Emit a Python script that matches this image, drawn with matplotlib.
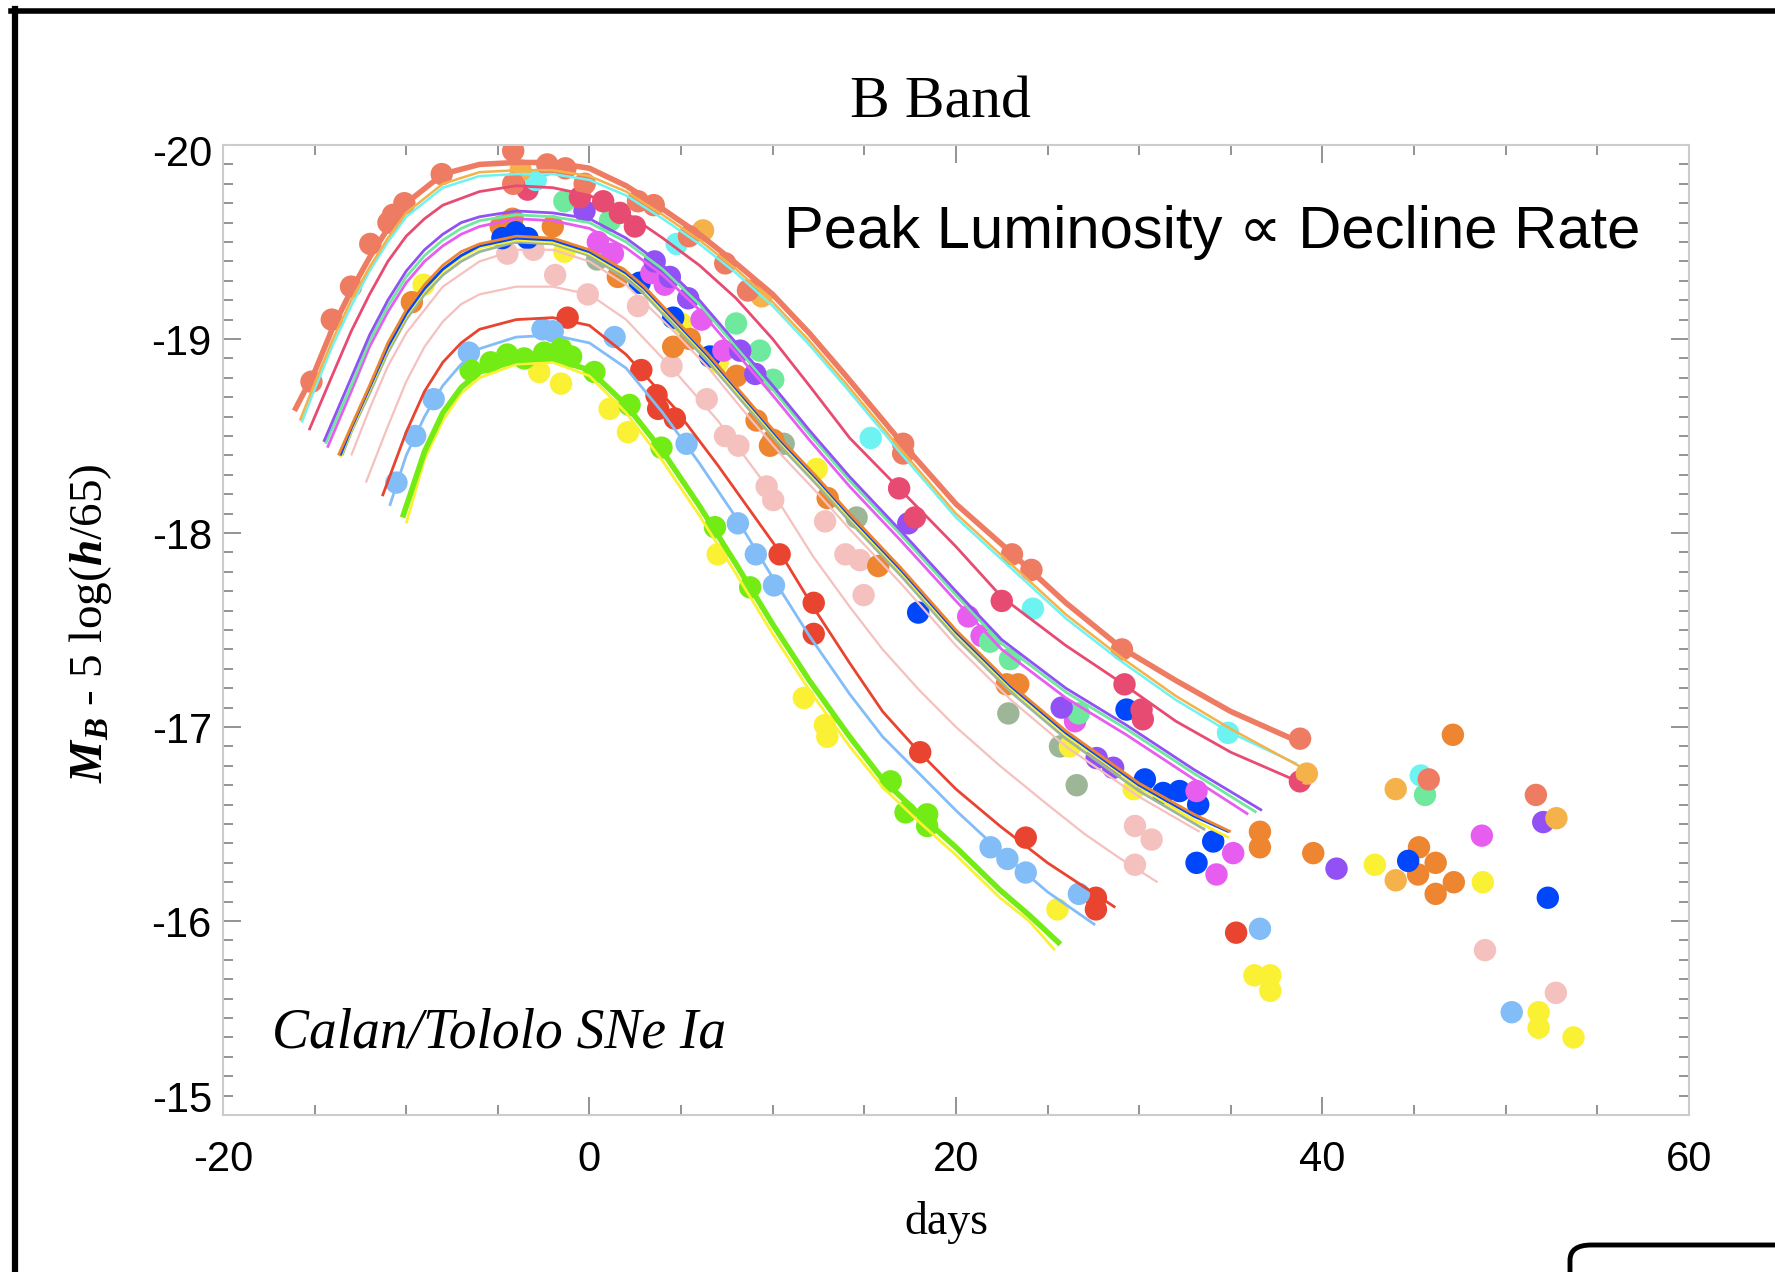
import matplotlib
matplotlib.use("Agg")
import matplotlib.pyplot as plt
from matplotlib.lines import Line2D
from matplotlib.patches import FancyBboxPatch
from matplotlib.ticker import MultipleLocator, FuncFormatter
from matplotlib.transforms import ScaledTranslation

plt.rcParams['axes.unicode_minus'] = False
plt.rcParams['mathtext.fontset'] = 'custom'
plt.rcParams['mathtext.rm'] = 'Liberation Serif'
plt.rcParams['mathtext.it'] = 'Liberation Serif:italic'
plt.rcParams['mathtext.bf'] = 'Liberation Serif:bold'
plt.rcParams['mathtext.bfit'] = 'Liberation Serif:italic:bold'

# ---- fitted light curves (days, M_B) ----
coral_day = [-16.1, -15, -14, -13, -12, -11, -10, -8, -6, -4, -2, 0, 2, 4, 6, 8, 10, 12, 14, 17, 20, 23, 26, 29, 32, 35, 38.8]
coral_mag = [-18.63, -18.83, -19.06, -19.25, -19.42, -19.57, -19.70, -19.85, -19.90, -19.91, -19.91, -19.88, -19.79, -19.67, -19.54, -19.39, -19.23, -19.03, -18.81, -18.47, -18.15, -17.90, -17.64, -17.41, -17.24, -17.08, -16.92]

ltorange_day = [-15.8, -15, -14, -13, -12, -11, -10, -8, -6, -4, -2, 0, 2, 4, 6, 8, 10, 12, 14, 17, 20, 23, 26, 29, 32, 35, 39.1]
ltorange_mag = [-18.58, -18.77, -19.00, -19.20, -19.37, -19.52, -19.65, -19.80, -19.86, -19.87, -19.87, -19.84, -19.76, -19.64, -19.51, -19.36, -19.19, -18.99, -18.77, -18.43, -18.10, -17.84, -17.58, -17.36, -17.16, -16.99, -16.78]

cyan_day = [-15.7, -15, -14, -13, -12, -11, -10, -8, -6, -4, -2, 0, 2, 4, 6, 8, 10, 12, 14, 17, 20, 23, 26, 29, 32, 35, 38.6]
cyan_mag = [-18.57, -18.74, -18.97, -19.17, -19.35, -19.50, -19.63, -19.78, -19.84, -19.85, -19.85, -19.82, -19.74, -19.62, -19.49, -19.34, -19.17, -18.97, -18.75, -18.41, -18.08, -17.82, -17.56, -17.34, -17.14, -16.97, -16.81]

pink_day = [-15.3, -14, -13, -12, -11, -10, -9, -8, -6, -4, -2, 0, 2, 4, 6, 8, 10, 12, 14.2, 17, 20, 22.5, 26, 29, 32, 35, 38.9]
pink_mag = [-18.53, -18.82, -19.04, -19.23, -19.40, -19.53, -19.62, -19.69, -19.76, -19.79, -19.78, -19.74, -19.65, -19.52, -19.38, -19.21, -19.00, -18.76, -18.49, -18.22, -17.93, -17.67, -17.42, -17.23, -17.03, -16.87, -16.71]

purple_day = [-14.5, -13, -12, -11, -10, -9, -8, -7, -6, -4, -2, 0, 2, 4, 6, 8, 10, 12, 14.2, 17, 20, 22.5, 26, 29.3, 33, 36.7]
purple_mag = [-18.47, -18.80, -19.02, -19.20, -19.35, -19.46, -19.54, -19.60, -19.63, -19.66, -19.65, -19.62, -19.52, -19.38, -19.20, -18.98, -18.76, -18.53, -18.29, -18.01, -17.70, -17.45, -17.20, -17.01, -16.78, -16.57]

mint_day = [-14.4, -13, -12, -11, -10, -9, -8, -7, -6, -4, -2, 0, 2, 4, 6, 8, 10, 12, 14.2, 17, 20, 22.5, 26, 29.3, 33, 36.4]
mint_mag = [-18.46, -18.76, -18.99, -19.17, -19.32, -19.43, -19.51, -19.57, -19.61, -19.64, -19.63, -19.60, -19.50, -19.36, -19.18, -18.96, -18.74, -18.51, -18.27, -17.99, -17.68, -17.43, -17.18, -16.99, -16.76, -16.56]

magenta_day = [-14.3, -13, -12, -11, -10, -9, -8, -7, -6, -4, -2, 0, 2, 4, 6, 8, 10, 12, 14.2, 17, 20, 22.5, 26, 29.3, 33, 35.95]
magenta_mag = [-18.44, -18.73, -18.96, -19.14, -19.29, -19.40, -19.48, -19.54, -19.58, -19.62, -19.61, -19.57, -19.47, -19.33, -19.15, -18.93, -18.71, -18.48, -18.24, -17.96, -17.65, -17.40, -17.15, -16.96, -16.73, -16.55]

orange_day = [-13.7, -13, -12, -11, -10, -9, -8, -7, -6, -4, -2, 0, 2, 3, 4.5, 6.5, 8.5, 10.5, 12.5, 14.2, 17, 20, 23, 26, 30, 33, 35]
orange_mag = [-18.40, -18.55, -18.76, -18.98, -19.15, -19.28, -19.38, -19.45, -19.49, -19.53, -19.52, -19.46, -19.35, -19.27, -19.12, -18.92, -18.70, -18.48, -18.28, -18.10, -17.82, -17.50, -17.22, -16.98, -16.71, -16.55, -16.46]

blue_day = [-13.6, -13, -12, -11, -10, -9, -8, -7, -6, -4, -2, 0, 2, 3, 4.5, 6.5, 8.5, 10.5, 12.5, 14.2, 17, 20, 23, 26, 30, 33, 34.9]
blue_mag = [-18.40, -18.54, -18.75, -18.96, -19.13, -19.26, -19.36, -19.43, -19.48, -19.52, -19.51, -19.45, -19.34, -19.26, -19.11, -18.91, -18.69, -18.47, -18.27, -18.09, -17.81, -17.49, -17.21, -16.97, -16.70, -16.54, -16.46]

sage_day = [-13.5, -13, -12, -11, -10, -9, -8, -7, -6, -4, -2, 0, 2, 3, 4.5, 6.5, 8.5, 10.5, 12.5, 14.2, 17, 20, 23, 26, 30, 33.6]
sage_mag = [-18.40, -18.52, -18.72, -18.93, -19.10, -19.23, -19.33, -19.40, -19.45, -19.50, -19.49, -19.43, -19.31, -19.23, -19.08, -18.88, -18.66, -18.44, -18.24, -18.06, -17.78, -17.46, -17.18, -16.94, -16.67, -16.47]

yelmid_day = [-13.6, -13, -12, -11, -10, -9, -8, -7, -6, -4, -2, 0, 2, 3, 4.5, 6.5, 8.5, 10.5, 12.5, 14.2, 17, 20, 23, 26, 30, 33, 34.9]
yelmid_mag = [-18.39, -18.53, -18.74, -18.95, -19.12, -19.25, -19.35, -19.42, -19.47, -19.51, -19.50, -19.44, -19.33, -19.25, -19.10, -18.90, -18.68, -18.46, -18.26, -18.08, -17.80, -17.48, -17.20, -16.96, -16.69, -16.52, -16.43]

pinkmid_day = [-13.0, -12, -11, -10, -8, -6, -4, -2, 0, 2, 4.5, 6.5, 8.5, 10.5, 12.5, 14.2, 17, 20, 23, 26, 30, 33.3]
pinkmid_mag = [-18.40, -18.64, -18.86, -19.03, -19.27, -19.40, -19.46, -19.46, -19.40, -19.28, -19.05, -18.85, -18.62, -18.40, -18.20, -18.02, -17.74, -17.42, -17.14, -16.90, -16.64, -16.46]

ltpink_day = [-12.2, -11, -10, -9, -8, -7, -6, -4, -2, 0, 2, 4.6, 7, 10.4, 12.2, 14.2, 16, 18, 20, 22.4, 25, 27, 29, 31]
ltpink_mag = [-18.26, -18.55, -18.78, -18.96, -19.09, -19.18, -19.23, -19.27, -19.27, -19.23, -19.10, -18.84, -18.58, -18.15, -17.88, -17.62, -17.40, -17.19, -17.00, -16.80, -16.60, -16.45, -16.32, -16.20]

red_day = [-11.3, -10, -9, -8, -7, -6, -4, -2, 0, 2, 4.6, 7, 10.4, 12.2, 14.2, 16, 18, 20, 22.4, 25, 28.7]
red_mag = [-18.19, -18.52, -18.73, -18.88, -18.98, -19.05, -19.10, -19.11, -19.07, -18.92, -18.65, -18.35, -17.90, -17.62, -17.33, -17.08, -16.87, -16.68, -16.49, -16.30, -16.07]

ltblue_day = [-10.9, -10, -9, -8, -7, -6, -4, -2, 0, 2, 4, 6, 8, 10, 12, 14.2, 16, 18, 20, 22.4, 25, 27.6]
ltblue_mag = [-18.14, -18.40, -18.60, -18.76, -18.87, -18.95, -19.01, -19.02, -18.98, -18.85, -18.62, -18.36, -18.08, -17.77, -17.47, -17.17, -16.95, -16.76, -16.57, -16.36, -16.15, -15.98]

yelbot_day = [-10.0, -9, -8, -7, -6, -4, -2, 0, 2, 4, 6, 8, 10, 12, 14.2, 16, 18, 20, 22.4, 24, 25.4]
yelbot_mag = [-18.05, -18.38, -18.58, -18.72, -18.80, -18.87, -18.88, -18.81, -18.62, -18.37, -18.09, -17.79, -17.48, -17.19, -16.90, -16.69, -16.51, -16.34, -16.12, -16.00, -15.85]

green_day = [-10.2, -9, -8, -7, -6, -4, -2, 0, 2, 4, 6, 8, 10, 12, 14.2, 16, 18, 20, 22.4, 24, 25.7]
green_mag = [-18.08, -18.42, -18.62, -18.75, -18.83, -18.89, -18.90, -18.84, -18.66, -18.42, -18.14, -17.84, -17.53, -17.24, -16.95, -16.73, -16.55, -16.38, -16.16, -16.03, -15.88]

# ---- observed points (days, M_B) ----
coral_pt_day = [-15.17, -14.06, -13.01, -11.96, -10.97, -10.72, -10.10, -8.06, -4.16, -4.16, -2.30, -1.31, -0.26, 2.65, 3.51, 5.43, 7.41, 8.65, 17.12, 17.12, 23.06, 24.12, 29.06, 38.78, 45.8, 51.65]
coral_pt_mag = [-18.78, -19.10, -19.27, -19.49, -19.60, -19.64, -19.70, -19.85, -19.97, -19.80, -19.90, -19.88, -19.80, -19.71, -19.69, -19.53, -19.39, -19.25, -18.46, -18.41, -17.89, -17.81, -17.40, -16.94, -16.73, -16.65]

ltorange_pt_day = [-3.75, 6.2, 9.4, 39.15, 44.0, 52.77, 44.0]
ltorange_pt_mag = [-19.87, -19.56, -19.22, -16.76, -16.68, -16.53, -16.21]

cyan_pt_day = [-2.93, 4.76, 15.35, 24.2, 34.85, 45.37]
cyan_pt_mag = [-19.82, -19.49, -18.49, -17.61, -16.97, -16.75]

pink_pt_day = [-3.38, -0.52, 0.75, 1.66, 2.48, 16.9, 17.76, 22.5, 29.2, 30.13, 30.2, 38.77]
pink_pt_mag = [-19.77, -19.73, -19.71, -19.65, -19.58, -18.23, -18.08, -17.65, -17.22, -17.09, -17.04, -16.72]

purple_pt_day = [-0.27, 3.56, 4.39, 5.39, 8.23, 9.05, 17.4, 25.77, 27.68, 28.58, 40.77, 52.05]
purple_pt_mag = [-19.66, -19.40, -19.32, -19.21, -18.94, -18.82, -18.05, -17.10, -16.84, -16.79, -16.27, -16.51]

mint_pt_day = [-1.37, 1.12, 8.0, 9.3, 10.03, 21.86, 22.95, 26.7, 45.6]
mint_pt_mag = [-19.71, -19.61, -19.08, -18.94, -18.79, -17.44, -17.35, -17.07, -16.65]

magenta_pt_day = [0.46, 1.28, 3.38, 4.11, 6.12, 7.31, 20.67, 21.4, 26.5, 33.13, 35.13, 34.22, 48.7]
magenta_pt_mag = [-19.50, -19.44, -19.34, -19.28, -19.10, -18.94, -17.57, -17.47, -17.03, -16.67, -16.35, -16.24, -16.44]

blue_pt_day = [-4.75, -4.02, -3.38, 2.74, 4.57, 6.58, 17.94, 29.31, 30.31, 31.31, 32.2, 33.22, 34.04, 33.13, 44.68, 52.3]
blue_pt_mag = [-19.52, -19.55, -19.52, -19.29, -19.11, -18.91, -17.59, -17.09, -16.73, -16.66, -16.67, -16.60, -16.41, -16.30, -16.31, -16.12]

orange_pt_day = [-9.69, -4.84, -4.2, -2.0, 1.55, 4.57, 5.48, 8.03, 9.12, 10.03, 9.85, 13.0, 15.76, 22.77, 23.4, 36.59, 36.59, 39.5, 47.12, 45.27, 46.18, 45.22, 47.17, 46.18]
orange_pt_mag = [-19.19, -19.58, -19.62, -19.58, -19.32, -18.96, -19.00, -18.81, -18.58, -18.48, -18.45, -18.18, -17.83, -17.22, -17.22, -16.46, -16.38, -16.35, -16.96, -16.38, -16.30, -16.24, -16.20, -16.14]

sage_pt_day = [0.42, 10.6, 14.58, 22.86, 25.68, 26.59]
sage_pt_mag = [-19.41, -18.46, -18.08, -17.07, -16.90, -16.70]

yellow_pt_day = [-9.05, -1.37, 5.0, 7.0, 12.4, 26.22, 29.7, 42.86, 48.75, 36.29, 37.16, 37.16, 51.8, 51.8, 53.7,
                 -2.74, -1.55, 1.1, 2.1, 7.0, 11.7, 12.85, 12.98, 25.54]
yellow_pt_mag = [-19.28, -19.45, -19.08, -18.88, -18.33, -16.90, -16.68, -16.29, -16.20, -15.72, -15.72, -15.64, -15.53, -15.45, -15.40,
                 -18.83, -18.77, -18.64, -18.52, -17.89, -17.15, -17.01, -16.95, -16.06]

ltpink_pt_day = [-4.48, -3.05, -1.87, -0.09, 2.65, 4.48, 6.4, 7.4, 8.13, 9.67, 10.03, 12.86, 13.97, 14.96, 14.76, 29.77, 30.68, 29.77, 48.87, 52.74]
ltpink_pt_mag = [-19.44, -19.46, -19.33, -19.23, -19.17, -18.86, -18.69, -18.50, -18.45, -18.24, -18.17, -18.06, -17.89, -17.68, -17.86, -16.49, -16.42, -16.29, -15.85, -15.63]

red_pt_day = [-1.19, 2.83, 3.66, 3.75, 4.66, 10.38, 12.24, 12.24, 18.05, 23.81, 27.64, 27.64, 35.29]
red_pt_mag = [-19.11, -18.84, -18.71, -18.64, -18.59, -17.89, -17.64, -17.48, -16.87, -16.43, -16.12, -16.06, -15.94]

ltblue_pt_day = [-10.53, -9.51, -8.5, -6.58, -2.56, -2.0, 1.37, 5.3, 8.1, 9.08, 10.07, 21.89, 22.81, 23.81, 26.71, 36.59, 50.33]
ltblue_pt_mag = [-18.26, -18.50, -18.69, -18.93, -19.05, -19.04, -19.01, -18.46, -18.05, -17.89, -17.73, -16.38, -16.32, -16.25, -16.14, -15.96, -15.53]

green_pt_day = [-6.49, -5.39, -4.48, -3.56, -2.47, -1.55, -1.0, 0.27, 2.19, 3.93, 6.85, 8.77, 16.44, 17.25, 18.43, 18.43]
green_pt_mag = [-18.84, -18.88, -18.92, -18.90, -18.93, -18.95, -18.91, -18.83, -18.66, -18.44, -18.03, -17.72, -16.72, -16.56, -16.55, -16.49]

C_CORAL = '#EE7C62'
C_LTORANGE = '#F5B24A'
C_CYAN = '#6EF3F3'
C_PINK = '#E84B72'
C_PURPLE = '#9151F4'
C_MINT = '#6FE99E'
C_MAGENTA = '#E65DF0'
C_ORANGE = '#EE8531'
C_BLUE = '#0046FA'
C_SAGE = '#9DB698'
C_YELLOW = '#FAF034'
C_LTPINK = '#F4C1BF'
C_RED = '#E8442F'
C_LTBLUE = '#82BDF8'
C_GREEN = '#73EC15'

curves = [
    (ltpink_day, ltpink_mag, C_LTPINK, 1.6),
    (pinkmid_day, pinkmid_mag, C_LTPINK, 1.6),
    (sage_day, sage_mag, C_SAGE, 2.0),
    (yelmid_day, yelmid_mag, C_YELLOW, 2.0),
    (blue_day, blue_mag, C_BLUE, 2.0),
    (orange_day, orange_mag, C_ORANGE, 2.0),
    (magenta_day, magenta_mag, C_MAGENTA, 2.0),
    (mint_day, mint_mag, C_MINT, 2.0),
    (purple_day, purple_mag, C_PURPLE, 2.0),
    (pink_day, pink_mag, C_PINK, 2.0),
    (cyan_day, cyan_mag, C_CYAN, 1.8),
    (ltorange_day, ltorange_mag, C_LTORANGE, 1.8),
    (coral_day, coral_mag, C_CORAL, 4.0),
    (red_day, red_mag, C_RED, 2.0),
    (ltblue_day, ltblue_mag, C_LTBLUE, 2.0),
    (yelbot_day, yelbot_mag, C_YELLOW, 2.0),
    (green_day, green_mag, C_GREEN, 4.0),
]

points = [
    (ltpink_pt_day, ltpink_pt_mag, C_LTPINK),
    (sage_pt_day, sage_pt_mag, C_SAGE),
    (yellow_pt_day, yellow_pt_mag, C_YELLOW),
    (orange_pt_day, orange_pt_mag, C_ORANGE),
    (blue_pt_day, blue_pt_mag, C_BLUE),
    (magenta_pt_day, magenta_pt_mag, C_MAGENTA),
    (mint_pt_day, mint_pt_mag, C_MINT),
    (purple_pt_day, purple_pt_mag, C_PURPLE),
    (pink_pt_day, pink_pt_mag, C_PINK),
    (cyan_pt_day, cyan_pt_mag, C_CYAN),
    (ltorange_pt_day, ltorange_pt_mag, C_LTORANGE),
    (coral_pt_day, coral_pt_mag, C_CORAL),
    (red_pt_day, red_pt_mag, C_RED),
    (ltblue_pt_day, ltblue_pt_mag, C_LTBLUE),
    (green_pt_day, green_pt_mag, C_GREEN),
]

fig = plt.figure(figsize=(17.75, 12.72), dpi=100)
ax = fig.add_axes([0.1256, 0.1234, 0.8259, 0.7626])

for d, m, c in points:
    ax.scatter(d, m, s=260, color=c, edgecolors='none', zorder=2)
for d, m, c, lw in curves:
    ax.plot(d, m, color=c, lw=lw, solid_capstyle='butt', zorder=3)

ax.set_xlim(-20, 60)
ax.set_ylim(-15, -20)
ax.xaxis.set_major_locator(MultipleLocator(20))
ax.xaxis.set_minor_locator(MultipleLocator(5))
ax.yaxis.set_major_locator(MultipleLocator(1))
ax.yaxis.set_minor_locator(MultipleLocator(0.1))
# end labels are drawn separately, nudged inside the frame like the original
ax.yaxis.set_major_formatter(FuncFormatter(lambda v, p: '' if round(v) in (-20, -15) else '%d' % round(v)))

for s in ax.spines.values():
    s.set_color('#cccccc')
    s.set_linewidth(1.5)
ax.tick_params(which='both', direction='in', top=True, right=True, color='#8a8a8a', width=1.3)
ax.tick_params(which='major', length=13)
ax.tick_params(which='minor', length=7)
ax.tick_params(axis='x', which='major', pad=18)
ax.tick_params(axis='y', which='major', pad=8)
ax.tick_params(labelsize=30)
for lab in ax.get_xticklabels() + ax.get_yticklabels():
    lab.set_fontfamily('Liberation Sans')

ytr = ax.get_yaxis_transform()
ax.text(-0.0075, -20, '-20', transform=ytr + ScaledTranslation(0, -0.10, fig.dpi_scale_trans),
        ha='right', va='center', family='Liberation Sans', fontsize=30)
ax.text(-0.0075, -15, '-15', transform=ytr + ScaledTranslation(0, 0.14, fig.dpi_scale_trans),
        ha='right', va='center', family='Liberation Sans', fontsize=30)

fig.text(940 / 1775, 1 - 104 / 1272, 'B Band', family='Liberation Serif', fontsize=43, ha='center', va='center')
fig.text(946 / 1775, 1 - 1222 / 1272, 'days', family='Liberation Serif', fontsize=33, ha='center', va='center')
fig.text(91 / 1775, 1 - 623 / 1272,
         r'$\mathbfit{M}_{\mathbfit{B}}\text{ - 5 log(}\mathbfit{h}\text{/65)}$',
         fontsize=34, rotation=90, ha='center', va='center')
fig.text(784 / 1775, 1 - 232 / 1272, 'Peak Luminosity \u221d Decline Rate',
         family=['Liberation Sans', 'DejaVu Sans'], fontsize=43, ha='left', va='center')
fig.text(272 / 1775, 1 - 1034 / 1272, 'Calan/Tololo SNe Ia', family='Liberation Serif',
         style='italic', fontsize=40, ha='left', va='center')

# slide frame around the chart
fig.add_artist(Line2D([11 / 1775, 1], [1 - 11 / 1272] * 2, color='black', lw=4, transform=fig.transFigure))
fig.add_artist(Line2D([14.5 / 1775] * 2, [0, 1 - 9 / 1272], color='black', lw=4.5, transform=fig.transFigure))
box = FancyBboxPatch((1570 / 1775, -0.05), 0.2, 0.05 + 1 - 1245 / 1272,
                     boxstyle='round,pad=0,rounding_size=0.012', transform=fig.transFigure,
                     facecolor='white', edgecolor='black', lw=3.5, clip_on=False)
fig.add_artist(box)

fig.savefig('out.png', dpi=100)
